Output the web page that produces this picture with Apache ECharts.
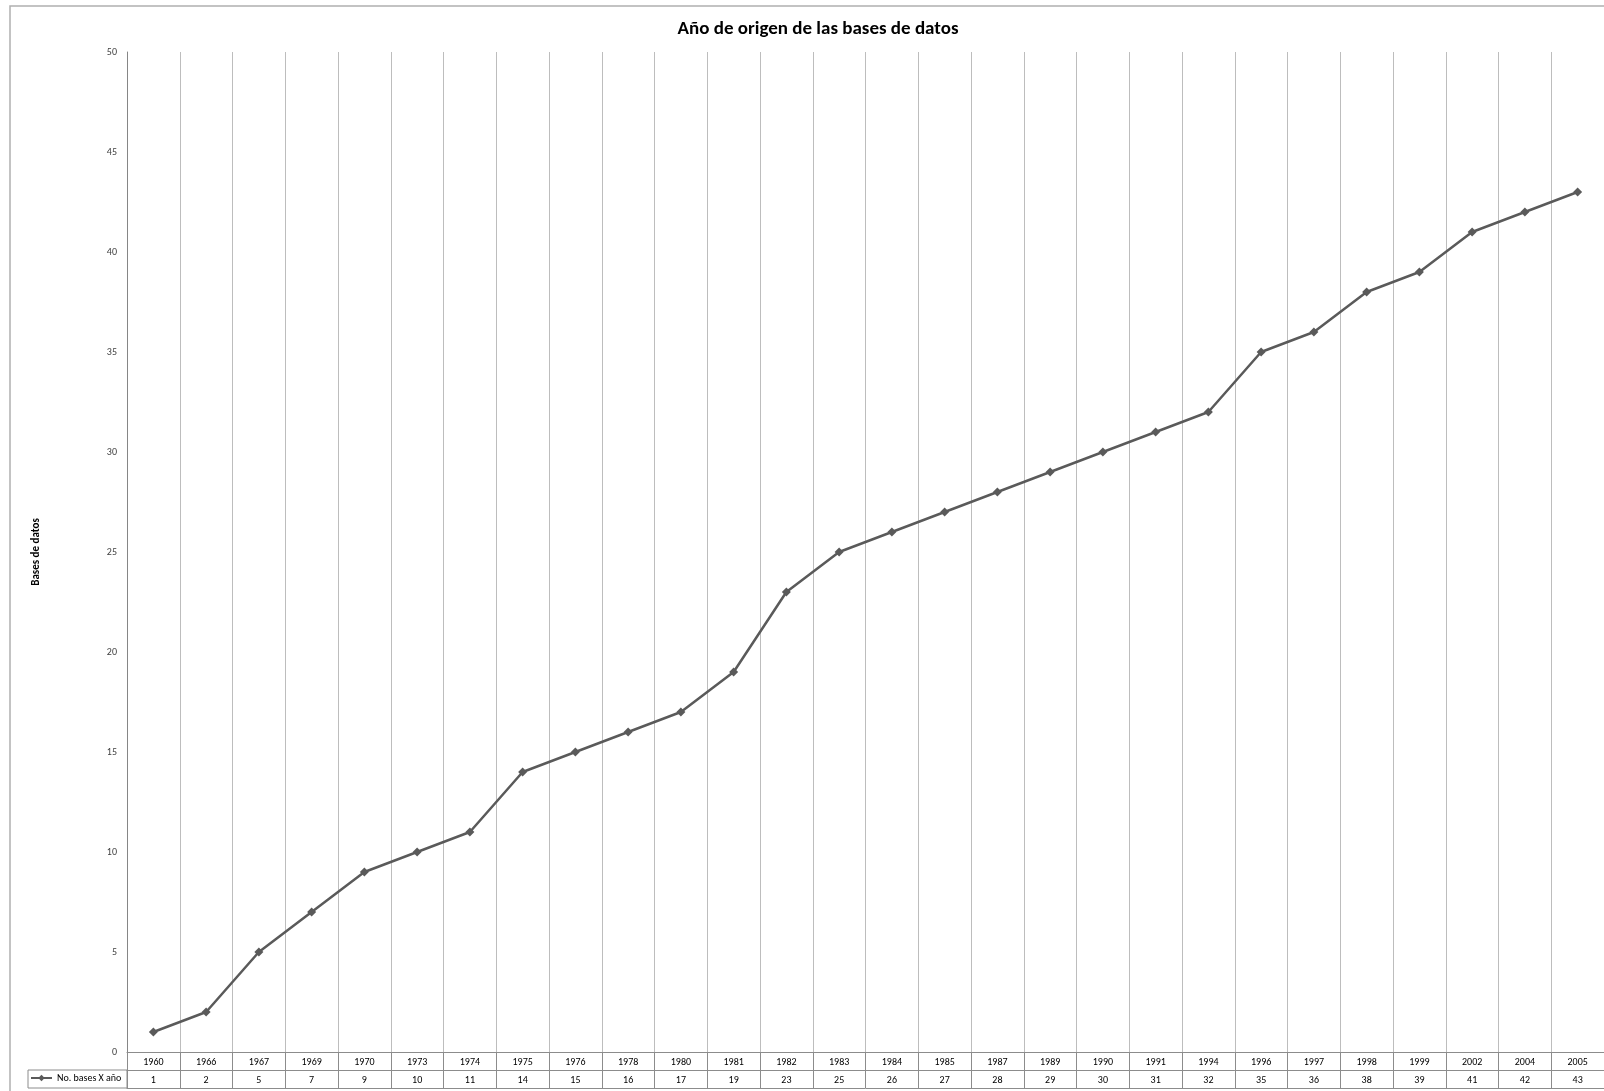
<!DOCTYPE html>
<html>
<head>
<meta charset="utf-8">
<script src="https://cdn.jsdelivr.net/npm/echarts@6/dist/echarts.min.js"></script>
<style>
  html, body { margin: 0; padding: 0; background: #fff; }
  #chart { width: 1604px; height: 1091px; }
</style>
</head>
<body>
<div id="chart"></div>
<script>
// datos
const years = ['1960', '1966', '1967', '1969', '1970', '1973', '1974', '1975', '1976', '1978',
  '1980', '1981', '1982', '1983', '1984', '1985', '1987', '1989', '1990', '1991',
  '1994', '1996', '1997', '1998', '1999', '2002', '2004', '2005'];
const bases = [1, 2, 5, 7, 9, 10, 11, 14, 15, 16, 17, 19, 23, 25, 26, 27, 28, 29, 30, 31,
  32, 35, 36, 38, 39, 41, 42, 43];
const seriesName = 'No. bases X año';

const font = 'Carlito, Lato, "Open Sans", sans-serif';
const lineColor = '#5a5a5a';
const tableLine = '#8c8c8c';

const myChart = echarts.init(document.getElementById('chart'));
const option = {
  animation: false,
  textStyle: { fontFamily: font },
  title: {
    text: 'Año de origen de las bases de datos',
    left: 813,
    top: 15,
    textAlign: 'center',
    textStyle: { fontSize: 19, fontWeight: 'bold', color: '#000', fontFamily: font },
  },
  legend: {
    data: [seriesName],
    left: 30,
    top: 1073,
    itemWidth: 21,
    itemHeight: 8,
    itemGap: 3,
    padding: 0,
    textStyle: { fontSize: 10, color: '#000', fontFamily: font },
  },
  grid: { left: 127, top: 52, right: -6, bottom: 39, containLabel: false },
  xAxis: [
    {
      type: 'category',
      data: years,
      boundaryGap: true,
      axisLine: { show: true, lineStyle: { color: tableLine, width: 1 } },
      axisTick: { show: true, interval: 0, length: 36, lineStyle: { color: tableLine } },
      axisLabel: { interval: 0, margin: 5, fontSize: 10, color: '#000' },
      splitLine: { show: true, interval: 0, lineStyle: { color: '#bdbdbd', width: 1 } },
    },
    {
      // fila de valores de la tabla de datos
      type: 'category',
      data: bases.map(String),
      position: 'bottom',
      offset: 18,
      axisLine: { show: true, lineStyle: { color: tableLine, width: 1 } },
      axisTick: { show: false },
      axisLabel: { interval: 0, margin: 5, fontSize: 10, color: '#000' },
      splitLine: { show: false },
    },
    {
      // borde inferior de la tabla
      type: 'category',
      data: years,
      position: 'bottom',
      offset: 36,
      axisLine: { show: true, lineStyle: { color: tableLine, width: 1 } },
      axisTick: { show: false },
      axisLabel: { show: false },
      splitLine: { show: false },
    },
  ],
  yAxis: {
    type: 'value',
    min: 0,
    max: 50,
    interval: 5,
    name: 'Bases de datos',
    nameLocation: 'middle',
    nameRotate: 90,
    nameGap: 85,
    nameTextStyle: { fontSize: 11, fontWeight: 'bold', color: '#000', fontFamily: font },
    axisLine: { show: true, lineStyle: { color: '#868686', width: 1 } },
    axisTick: { show: false },
    axisLabel: { margin: 10, fontSize: 10, color: '#404040' },
    splitLine: { show: false },
  },
  graphic: [
    {
      type: 'rect',
      shape: { x: 10, y: 6, width: 1700, height: 1200 },
      style: { fill: 'none', stroke: '#b0b0b0', lineWidth: 1.5 },
      silent: true,
    },
    {
      type: 'rect',
      shape: { x: 28, y: 1070, width: 99, height: 18 },
      style: { fill: 'none', stroke: tableLine, lineWidth: 1 },
      silent: true,
    },
  ],
  series: [
    {
      name: seriesName,
      type: 'line',
      data: bases,
      symbol: 'diamond',
      symbolSize: 9,
      lineStyle: { color: lineColor, width: 2.5 },
      itemStyle: { color: lineColor },
    },
  ],
};

option && myChart.setOption(option);
</script>
</body>
</html>
